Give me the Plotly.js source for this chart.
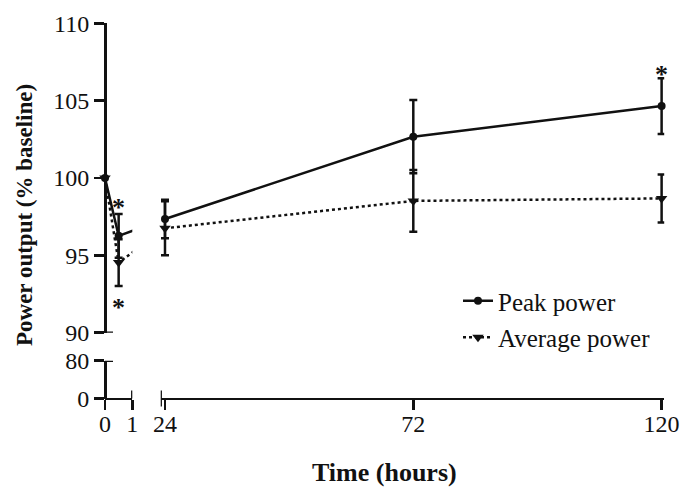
<!DOCTYPE html>
<html>
<head>
<meta charset="utf-8">
<script src="https://cdn.plot.ly/plotly-3.0.1.min.js"></script>
<style>html,body{margin:0;padding:0;background:#fff}#chart{width:682px;height:487px}</style>
</head>
<body>
<div id="chart"></div>
<script>
// ---- data ----
const hours      = [0, 0.5, 24, 72, 120];
const peakPower  = [100, 96.26, 97.35, 102.67, 104.65];
const peakSEM    = [null, 1.41, 1.25, 2.37, 1.8];
const avgPower   = [100, 94.53, 96.75, 98.52, 98.68];
const avgSEM     = [null, 1.51, 1.75, 2.0, 1.55];
const seriesNames = ['Peak power', 'Average power'];
const xTicksEarly = [0, 1];
const xTicksLate  = [24, 72, 120];
const yTicksUpper = [90, 95, 100, 105, 110];
const yTicksLower = [0, 80];
const starHours  = [0.5, 0.5, 120];
const starValues = [98.45, 92.0, 107.1];
const xTitle = 'Time (hours)';
const yTitle = 'Power output (% baseline)';

// ---- layout geometry ----
const W = 682, H = 487;
const px = v => v / W;
const py = v => 1 - v / H;
const X1PX = [105, 132.3], X1R = [0, 1];
const X2PX = [160.7, 664.2], X2R = [23.17, 120.5];
const YPX = [332.7, 23.3], YR = [90, 110];
const Y2PX = [398.5, 360.7], Y2R = [0, 80];
const BREAK = 1;

const ink = '#111';
const serif = 'Liberation Serif, Times New Roman, serif';
const tickFont = {family: serif, size: 24, color: ink};
const legendFont = {family: serif, size: 25, color: ink};
const xTitleFont = {family: serif, size: 26, color: ink, weight: 'bold'};
const yTitleFont = {family: serif, size: 23, color: ink, weight: 'bold'};

const early = hours.map((h, i) => i).filter(i => hours[i] <= BREAK);
const late = hours.map((h, i) => i).filter(i => hours[i] > BREAK);
const nanify = a => a.map(v => (v === null ? NaN : v));

// where the first late point sits in early-axis units (line continues to the break and is clipped)
const lateFirst = late[0];
const pixOfLate = X2PX[0] + (hours[lateFirst] - X2R[0]) / (X2R[1] - X2R[0]) * (X2PX[1] - X2PX[0]);
const contX = X1R[0] + (pixOfLate - X1PX[0]) / (X1PX[1] - X1PX[0]) * (X1R[1] - X1R[0]);

const styles = [
  {line: {color: ink, width: 2.5, dash: 'solid'}, marker: {symbol: 'circle', size: 8, color: ink}},
  {line: {color: ink, width: 2.5, dash: 'dot'}, marker: {symbol: 'triangle-down', size: 10, color: ink}}
];
const series = [[peakPower, peakSEM], [avgPower, avgSEM]];

const traces = [];
series.forEach(([vals, sem], s) => {
  const err = nanify(sem);
  traces.push({
    x: early.map(i => hours[i]).concat([contX]),
    y: early.map(i => vals[i]).concat([vals[lateFirst]]),
    xaxis: 'x', yaxis: 'y', mode: 'lines', line: styles[s].line,
    showlegend: false, hoverinfo: 'skip'
  });
  traces.push({
    x: early.map(i => hours[i]), y: early.map(i => vals[i]),
    xaxis: 'x', yaxis: 'y', mode: 'markers', marker: styles[s].marker, cliponaxis: false,
    error_y: {type: 'data', array: early.map(i => err[i]), visible: true, color: ink, thickness: 2.5, width: 4},
    showlegend: false
  });
  traces.push({
    x: late.map(i => hours[i]), y: late.map(i => vals[i]),
    xaxis: 'x2', yaxis: 'y', mode: 'lines+markers', name: seriesNames[s],
    line: styles[s].line, marker: styles[s].marker, cliponaxis: false,
    legendgroup: 'g' + s,
    error_y: {type: 'data', array: late.map(i => err[i]), visible: true, color: ink, thickness: 2.5, width: 4}
  });
});
traces.push({x: [], y: [], xaxis: 'x', yaxis: 'y2', mode: 'markers', showlegend: false, hoverinfo: 'skip'});

const axisBase = {
  showline: true, linewidth: 2.5, linecolor: ink, ticks: 'outside', ticklen: 10, tickwidth: 2.5,
  tickcolor: ink, showgrid: false, zeroline: false, tickfont: tickFont, fixedrange: true,
  tickmode: 'array'
};

const annotations = starHours.map((h, k) => ({
  x: h, y: starValues[k], xref: h <= BREAK ? 'x' : 'x2', yref: 'y',
  text: '*', showarrow: false, yshift: -6,
  font: {family: serif, size: 26, color: ink, weight: 'bold'}
}));
annotations.push({
  x: px((X1PX[0] + X2PX[1]) / 2), y: py(472), xref: 'paper', yref: 'paper',
  text: xTitle, showarrow: false, xanchor: 'center', yanchor: 'middle', font: xTitleFont
});
annotations.push({
  x: px(25), y: py(215), xref: 'paper', yref: 'paper',
  text: yTitle, textangle: -90, showarrow: false, xanchor: 'center', yanchor: 'middle', font: yTitleFont
});

const decor = {type: 'line', line: {color: ink, width: 2.5}};
const shapes = [
  Object.assign({}, decor, {xref: 'paper', yref: 'y', x0: px(X1PX[0]), x1: px(X1PX[0] + 8), y0: YR[0], y1: YR[0]}),
  Object.assign({}, decor, {xref: 'paper', yref: 'y2', x0: px(X1PX[0]), x1: px(X1PX[0] + 8), y0: Y2R[1], y1: Y2R[1]}),
  Object.assign({}, decor, {xref: 'x', yref: 'paper', x0: X1R[1], x1: X1R[1], y0: py(Y2PX[0]), y1: py(Y2PX[0] - 8)}),
  Object.assign({}, decor, {xref: 'x2', yref: 'paper', x0: X2R[0], x1: X2R[0], y0: py(Y2PX[0] + 8), y1: py(Y2PX[0] - 8)})
];

const layout = {
  width: W, height: H, margin: {l: 0, r: 0, t: 0, b: 0},
  paper_bgcolor: '#fff', plot_bgcolor: 'rgba(0,0,0,0)',
  showlegend: true,
  legend: {
    x: px(458), y: py(278), xanchor: 'left', yanchor: 'top',
    font: legendFont, bgcolor: 'rgba(0,0,0,0)', tracegroupgap: 1, itemwidth: 30
  },
  xaxis: Object.assign({}, axisBase, {domain: [px(X1PX[0]), px(X1PX[1])], range: X1R,
    tickvals: xTicksEarly, anchor: 'free', position: py(Y2PX[0]), ticklabelstandoff: -7}),
  xaxis2: Object.assign({}, axisBase, {domain: [px(X2PX[0]), px(X2PX[1])], range: X2R,
    tickvals: xTicksLate, anchor: 'free', position: py(Y2PX[0]), ticklabelstandoff: -7}),
  yaxis: Object.assign({}, axisBase, {domain: [py(YPX[0]), py(YPX[1])], range: YR,
    tickvals: yTicksUpper, anchor: 'free', position: px(X1PX[0])}),
  yaxis2: Object.assign({}, axisBase, {domain: [py(Y2PX[0]), py(Y2PX[1])], range: Y2R,
    tickvals: yTicksLower, anchor: 'free', position: px(X1PX[0])}),
  annotations: annotations,
  shapes: shapes
};

Plotly.newPlot('chart', traces, layout, {displayModeBar: false, staticPlot: true});
</script>
</body>
</html>
